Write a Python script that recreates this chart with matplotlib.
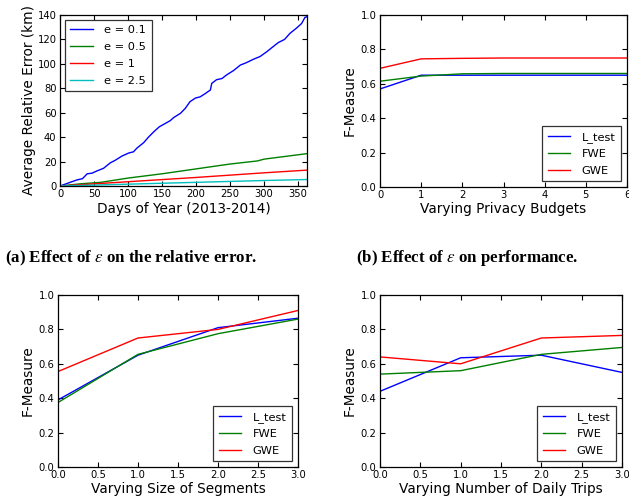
import matplotlib
matplotlib.use("Agg")
import matplotlib.pyplot as plt
import numpy as np

# (a) relative error over days
days_b = [0, 10, 25, 33, 40, 47, 55, 64, 74, 81, 91, 101, 108, 113, 123, 130, 138, 146, 155, 162,
          167, 177, 184, 191, 199, 206, 213, 221, 223, 230, 238, 245, 255, 265, 274, 284, 294, 304,
          313, 321, 330, 338, 347, 355, 360, 363]
err_01 = [0, 2, 5, 6, 10, 10.5, 12.5, 14.5, 19, 21, 24.5, 27, 28, 31, 35.5, 40, 44.5, 48.5, 51.3, 53.5,
          56, 59.5, 63.5, 69, 72, 73, 75.5, 78.6, 84, 87, 88, 91, 94.5, 99, 101, 103.7, 106, 110,
          114, 117.5, 120, 125, 129, 133, 138, 138.6]
days_g = [0, 30, 60, 100, 150, 200, 250, 290, 300, 363]
err_05 = [0, 1.8, 3, 6.5, 10, 14, 18, 20.5, 22, 26.5]
days_r = [0, 100, 200, 300, 363]
err_1 = [0, 3.5, 7, 10.8, 13]
days_c = [0, 100, 200, 300, 363]
err_25 = [0, 1.5, 3, 4.5, 5.3]

# (b) privacy budgets
budgets = [0, 1, 2, 3, 4, 5, 6]
b_ltest = [0.57, 0.65, 0.65, 0.65, 0.65, 0.65, 0.65]
b_fwe = [0.615, 0.645, 0.658, 0.66, 0.66, 0.66, 0.66]
b_gwe = [0.69, 0.745, 0.748, 0.75, 0.75, 0.75, 0.75]

# (c) size of segments
seg = [0, 1, 2, 3]
c_ltest = [0.39, 0.65, 0.81, 0.865]
c_fwe = [0.375, 0.655, 0.775, 0.86]
c_gwe = [0.555, 0.75, 0.80, 0.91]

# (d) daily trips
trips = [0, 1, 2, 3]
d_ltest = [0.44, 0.635, 0.65, 0.55]
d_fwe = [0.54, 0.56, 0.655, 0.695]
d_gwe = [0.64, 0.60, 0.75, 0.765]

plt.rcParams.update({
    'font.family': 'DejaVu Sans',
    'mathtext.fontset': 'stix',
    'xtick.direction': 'in', 'ytick.direction': 'in',
    'xtick.top': True, 'ytick.right': True,
    'xtick.labelsize': 7.2, 'ytick.labelsize': 7.2,
    'xtick.major.size': 3.5, 'ytick.major.size': 3.5,
    'xtick.major.pad': 2.5, 'ytick.major.pad': 2.5,
    'axes.labelsize': 9.8,
    'axes.linewidth': 0.9,
    'legend.fontsize': 8.2,
})

fig = plt.figure(figsize=(6.29, 4.98), dpi=100)
W, H = 629, 498

def mkax(l, t, r, b):
    return fig.add_axes([l / W, 1 - b / H, (r - l) / W, (b - t) / H])

axa = mkax(60, 15, 307, 186)
axa.plot(days_b, err_01, color='b', lw=1, label='e = 0.1')
axa.plot(days_g, err_05, color='g', lw=1, label='e = 0.5')
axa.plot(days_r, err_1, color='r', lw=1, label='e = 1')
axa.plot(days_c, err_25, color='c', lw=1, label='e = 2.5')
axa.set_xlim(0, 363)
axa.set_ylim(0, 140)
axa.set_xticks(range(0, 351, 50))
axa.set_yticks(range(0, 141, 20))
axa.set_xlabel('Days of Year (2013-2014)', labelpad=2)
axa.set_ylabel('Average Relative Error (km)', labelpad=1)
leg = axa.legend(loc='upper left', fancybox=False, edgecolor='black', handlelength=2.0,
                 handletextpad=1.0, borderpad=0.5, labelspacing=0.6, borderaxespad=0.4)
leg.get_frame().set_linewidth(0.9)

def fplot(ax, x, a, b, c, xlabel, xlim, xticks):
    ax.plot(x, a, color='b', lw=1, label='L_test')
    ax.plot(x, b, color='g', lw=1, label='FWE')
    ax.plot(x, c, color='r', lw=1, label='GWE')
    ax.set_xlim(*xlim)
    ax.set_ylim(0, 1.0)
    ax.set_xticks(xticks)
    ax.set_yticks(np.arange(0, 1.01, 0.2))
    ax.set_xlabel(xlabel, labelpad=1)
    ax.set_ylabel('F-Measure', labelpad=3)
    lg = ax.legend(loc='lower right', fancybox=False, edgecolor='black', handlelength=2.0,
                   handletextpad=1.0, borderpad=0.5, labelspacing=0.55, borderaxespad=0.5)
    lg.get_frame().set_linewidth(0.9)

axb = mkax(380, 15, 627, 187)
fplot(axb, budgets, b_ltest, b_fwe, b_gwe, 'Varying Privacy Budgets', (0, 6), range(0, 7))

axc = mkax(58, 295, 298, 467)
fplot(axc, seg, c_ltest, c_fwe, c_gwe, 'Varying Size of Segments', (0, 3), np.arange(0, 3.01, 0.5))

axd = mkax(380, 295, 622, 467)
fplot(axd, trips, d_ltest, d_fwe, d_gwe, 'Varying Number of Daily Trips', (0, 3), np.arange(0, 3.01, 0.5))

for ax in (axc, axd):
    ax.set_xticklabels(['0.0', '0.5', '1.0', '1.5', '2.0', '2.5', '3.0'])
for ax in (axb, axc, axd):
    ax.set_yticklabels(['0.0', '0.2', '0.4', '0.6', '0.8', '1.0'])

fig.text(131 / W, 1 - 258 / H, '(a) Effect of $\\varepsilon$ on the relative error.', ha='center', va='center',
         fontsize=12.2, fontweight='bold', family='Liberation Serif')
fig.text(467 / W, 1 - 258 / H, '(b) Effect of $\\varepsilon$ on performance.', ha='center', va='center',
         fontsize=12.2, fontweight='bold', family='Liberation Serif')

fig.savefig('out.png', dpi=100, facecolor='white')
